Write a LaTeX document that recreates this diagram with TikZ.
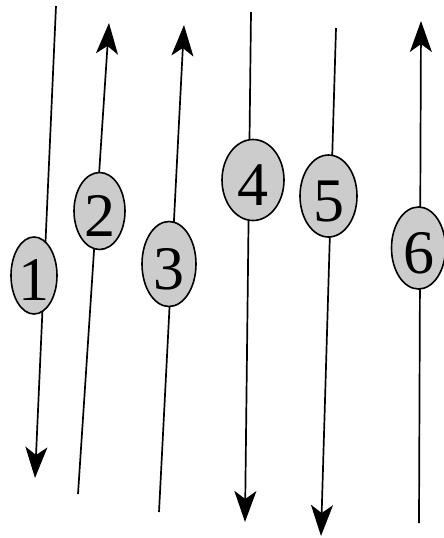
\documentclass[tikz,border=0pt]{standalone}
\usepackage{fontspec}
\newfontfamily\digitfont{Liberation Serif}
\usetikzlibrary{shapes.geometric,arrows.meta}
\definecolor{ovalfill}{HTML}{CCCCCC}
\tikzset{
  oval/.style={ellipse, draw=black, line width=1.6pt, fill=ovalfill, inner sep=0pt,
    text height=50pt, text depth=0pt, font=\digitfont\fontsize{62}{62}\selectfont},
  strand/.style={line width=1.7pt, draw=black},
  tipped/.style={strand, -{Stealth[length=31pt,width=22pt,inset=8pt]}}
}
\begin{document}
\begin{tikzpicture}[x=1pt,y=-1pt]
\useasboundingbox (0,0) rectangle (444,538);
% end points
\coordinate (a1) at (56,6);   \coordinate (b1) at (35,478);
\coordinate (a2) at (78,494); \coordinate (b2) at (109,23);
\coordinate (a3) at (159,512);\coordinate (b3) at (184,25);
\coordinate (a4) at (251,12); \coordinate (b4) at (245,522);
\coordinate (a5) at (336,28); \coordinate (b5) at (321,536);
\coordinate (a6) at (419,523);\coordinate (b6) at (421,21);
% strands
\draw[tipped] (a1) -- (b1);
\draw[tipped] (a2) -- (b2);
\draw[tipped] (a3) -- (b3);
\draw[tipped] (a4) -- (b4);
\draw[tipped] (a5) -- (b5);
\draw[tipped] (a6) -- (b6);
% ovals
\node[oval, minimum width=46pt, minimum height=77pt] (n1) at (34,275.5) {1};
\node[oval, minimum width=51pt, minimum height=77pt] (n2) at (99.5,211) {2};
\node[oval, minimum width=54pt, minimum height=85pt] (n3) at (169,264) {3};
\node[oval, minimum width=62pt, minimum height=81pt] (n4) at (253,180) {4};
\node[oval, minimum width=57pt, minimum height=82pt] (n5) at (328.5,196) {5};
\node[oval, minimum width=54pt, minimum height=82pt] (n6) at (418.5,248) {6};
\end{tikzpicture}
\end{document}
